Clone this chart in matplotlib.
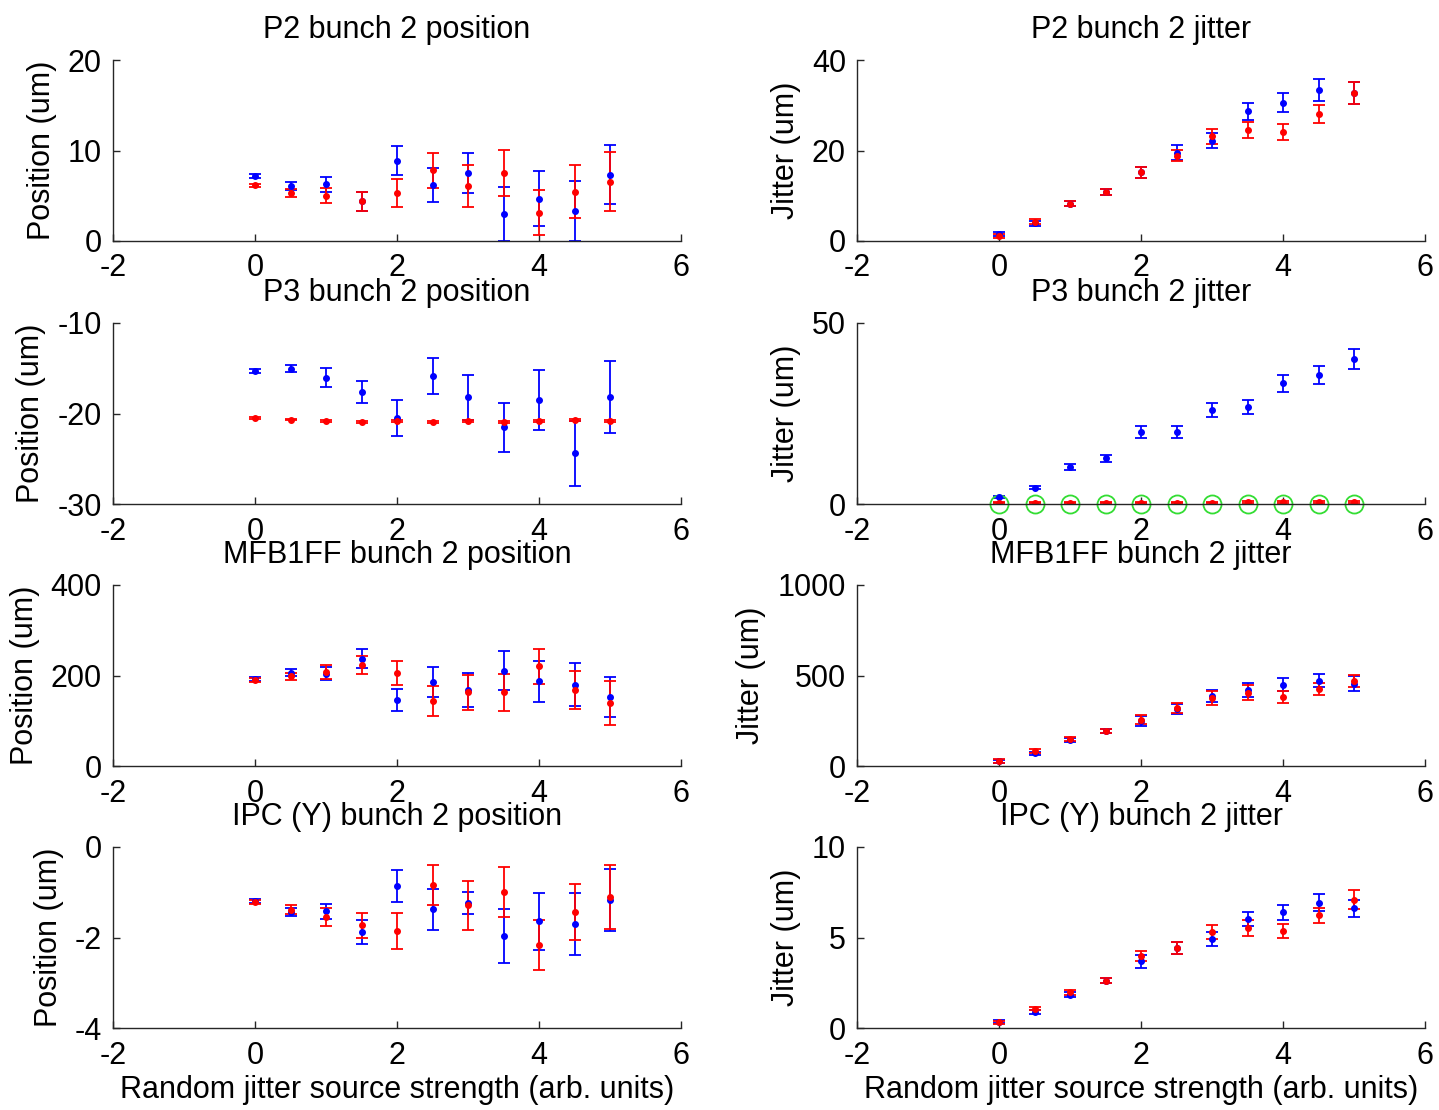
import numpy as np
import matplotlib.pyplot as plt

plt.rcParams["font.family"] = ["Liberation Sans Narrow", "Liberation Sans", "DejaVu Sans"]
plt.rcParams["axes.unicode_minus"] = False

# =============================================================================== #
# DADOS

x = [0, 0.5, 1, 1.5, 2, 2.5, 3, 3.5, 4, 4.5, 5]

# P2 position
p2_pos_b = [7.18, 6.08, 6.26, 4.38, 8.88, 6.19, 7.51, 2.98, 4.68, 3.31, 7.33]
p2_pos_b_err = [0.2, 0.42, 0.8, 1.07, 1.6, 1.93, 2.19, 2.96, 3.06, 3.35, 3.28]
p2_pos_r = [6.15, 5.3, 5.0, 4.38, 5.3, 7.81, 6.11, 7.51, 3.13, 5.45, 6.55]
p2_pos_r_err = [0.2, 0.48, 0.85, 1.07, 1.57, 1.95, 2.34, 2.58, 2.49, 2.9, 3.26]

# P2 jitter
p2_jit_b = [1.5, 3.9, 8.25, 10.8, 15.2, 19.5, 22.2, 28.7, 30.6, 33.4, 32.6]
p2_jit_b_err = [0.4, 0.5, 0.6, 0.6, 1.18, 1.66, 1.66, 1.9, 2.2, 2.5, 2.43]
p2_jit_r = [1.1, 4.27, 8.25, 10.8, 15.2, 18.85, 23.1, 24.6, 24.1, 28.1, 32.6]
p2_jit_r_err = [0.4, 0.5, 0.6, 0.6, 1.18, 1.25, 1.6, 1.8, 1.77, 2.06, 2.43]

# P3 position
p3_pos_b = [-15.28, -15.06, -16.05, -17.6, -20.5, -15.87, -18.2, -21.5, -18.52, -24.4, -18.2]
p3_pos_b_err = [0.2, 0.38, 1.07, 1.24, 2.02, 2.0, 2.48, 2.7, 3.3, 3.57, 4.0]
p3_pos_r = [-20.52, -20.67, -20.82, -20.93, -20.82, -20.93, -20.82, -20.93, -20.82, -20.75, -20.82]
p3_pos_r_err = [0.1, 0.1, 0.1, 0.1, 0.1, 0.1, 0.1, 0.1, 0.1, 0.1, 0.1]

# P3 jitter
p3_jit_b = [1.82, 4.46, 10.2, 12.57, 19.86, 19.86, 25.96, 26.8, 33.3, 35.7, 40.0]
p3_jit_b_err = [0.3, 0.4, 0.77, 1.05, 1.55, 1.55, 1.96, 1.96, 2.32, 2.46, 2.69]
p3_jit_r = [0.36, 0.36, 0.36, 0.36, 0.4, 0.36, 0.36, 0.5, 0.5, 0.5, 0.5]
p3_jit_r_err = [0.2, 0.2, 0.2, 0.2, 0.2, 0.2, 0.2, 0.2, 0.2, 0.2, 0.2]
p3_jit_g = [0, 0, 0, 0, 0, 0, 0, 0, 0, 0, 0]

# MFB1FF position
mfb_pos_b = [191.9, 206, 203.7, 236.7, 145.8, 186, 167, 211, 186.8, 180, 152.4]
mfb_pos_b_err = [4, 7.7, 14.3, 20.9, 24.2, 32.6, 37.7, 42.5, 45, 47.3, 45]
mfb_pos_r = [190.5, 197.8, 208, 224, 205, 143.6, 162.6, 162.6, 220.5, 167.8, 140]
mfb_pos_r_err = [4, 7.7, 16, 20, 26.4, 33, 38.8, 40, 38.8, 41.8, 48.4]

# MFB1FF jitter
mfb_jit_b = [25, 69.6, 143, 194, 247, 313, 385, 421, 450, 472, 454]
mfb_jit_b_err = [10, 10, 12, 12, 28, 27, 34, 40, 34, 34, 41]
mfb_jit_r = [27.5, 84, 150, 194, 256.6, 322, 377, 405, 381, 427, 469]
mfb_jit_r_err = [10, 10, 12, 12, 25, 27, 38, 40, 33, 34, 34]

# IPC (Y) position
ipc_pos_b = [-1.19, -1.44, -1.42, -1.88, -0.86, -1.38, -1.24, -1.97, -1.64, -1.70, -1.17]
ipc_pos_b_err = [0.05, 0.09, 0.17, 0.26, 0.36, 0.45, 0.25, 0.6, 0.63, 0.69, 0.68]
ipc_pos_r = [-1.22, -1.39, -1.55, -1.73, -1.86, -0.84, -1.29, -0.99, -2.16, -1.44, -1.11]
ipc_pos_r_err = [0.05, 0.1, 0.2, 0.27, 0.4, 0.44, 0.54, 0.55, 0.55, 0.62, 0.71]

# IPC (Y) jitter
ipc_jit_b = [0.35, 0.89, 1.84, 2.62, 3.7, 4.44, 4.9, 6.0, 6.39, 6.92, 6.61]
ipc_jit_b_err = [0.08, 0.1, 0.15, 0.12, 0.36, 0.33, 0.38, 0.39, 0.43, 0.46, 0.46]
ipc_jit_r = [0.32, 1.07, 1.97, 2.62, 3.99, 4.44, 5.28, 5.54, 5.37, 6.23, 7.09]
ipc_jit_r_err = [0.08, 0.1, 0.15, 0.12, 0.27, 0.33, 0.39, 0.43, 0.38, 0.42, 0.54]

titulos = [
    "P2 bunch 2 position", "P2 bunch 2 jitter",
    "P3 bunch 2 position", "P3 bunch 2 jitter",
    "MFB1FF bunch 2 position", "MFB1FF bunch 2 jitter",
    "IPC (Y) bunch 2 position", "IPC (Y) bunch 2 jitter",
]

series = [
    (p2_pos_b, p2_pos_b_err, p2_pos_r, p2_pos_r_err),
    (p2_jit_b, p2_jit_b_err, p2_jit_r, p2_jit_r_err),
    (p3_pos_b, p3_pos_b_err, p3_pos_r, p3_pos_r_err),
    (p3_jit_b, p3_jit_b_err, p3_jit_r, p3_jit_r_err),
    (mfb_pos_b, mfb_pos_b_err, mfb_pos_r, mfb_pos_r_err),
    (mfb_jit_b, mfb_jit_b_err, mfb_jit_r, mfb_jit_r_err),
    (ipc_pos_b, ipc_pos_b_err, ipc_pos_r, ipc_pos_r_err),
    (ipc_jit_b, ipc_jit_b_err, ipc_jit_r, ipc_jit_r_err),
]

ylims = [(0, 20), (0, 40), (-30, -10), (0, 50), (0, 400), (0, 1000), (-4, 0), (0, 10)]
yticks = [[0, 10, 20], [0, 20, 40], [-30, -20, -10], [0, 50],
          [0, 200, 400], [0, 500, 1000], [-4, -2, 0], [0, 5, 10]]
xticks = [-2, 0, 2, 4, 6]

# =============================================================================== #
# FIGURA

W, H = 1439, 1110
fig = plt.figure(figsize=(W / 100, H / 100), dpi=100)

lefts = [113, 857]
bottoms = [241, 504, 766, 1028]
aw, ah = 568, 181
fs = 22

for i in range(8):
    lin, col = i // 2, i % 2
    ax = fig.add_axes([lefts[col] / W, 1 - bottoms[lin] / H, aw / W, ah / H])
    yb, eb, yr, er = series[i]

    estilo = dict(fmt="o", ms=4, capsize=4, elinewidth=1.3, capthick=1.3, lw=1.3)
    ax.errorbar(x, yb, yerr=eb, color="#0000ff", **estilo)
    ax.errorbar(x, yr, yerr=er, color="#ff0000", **estilo)
    if i == 3:
        ax.plot(x, p3_jit_g, "o", ms=13, mfc="none", mec="#33dd33", mew=1.3, clip_on=False)

    ax.set_xlim(-2, 6)
    ax.set_ylim(*ylims[i])
    ax.set_xticks(xticks)
    ax.set_yticks(yticks[i])
    ax.spines["top"].set_visible(False)
    ax.spines["right"].set_visible(False)
    for s in ["left", "bottom"]:
        ax.spines[s].set_color("#262626")
        ax.spines[s].set_linewidth(1.0)
    ax.tick_params(direction="in", length=5, width=1, labelsize=fs, colors="#262626",
                   labelcolor="black")
    ax.tick_params(axis="x", pad=9)
    ax.tick_params(axis="y", pad=8)
    ax.set_title(titulos[i], fontsize=fs, pad=16)
    if col == 0:
        ax.set_ylabel("Position (um)", fontsize=fs, labelpad=8)
    else:
        ax.set_ylabel("Jitter (um)", fontsize=fs, labelpad=8)
    if lin == 3:
        ax.set_xlabel("Random jitter source strength (arb. units)", fontsize=fs, labelpad=3)

fig.savefig("out.png", dpi=100)
